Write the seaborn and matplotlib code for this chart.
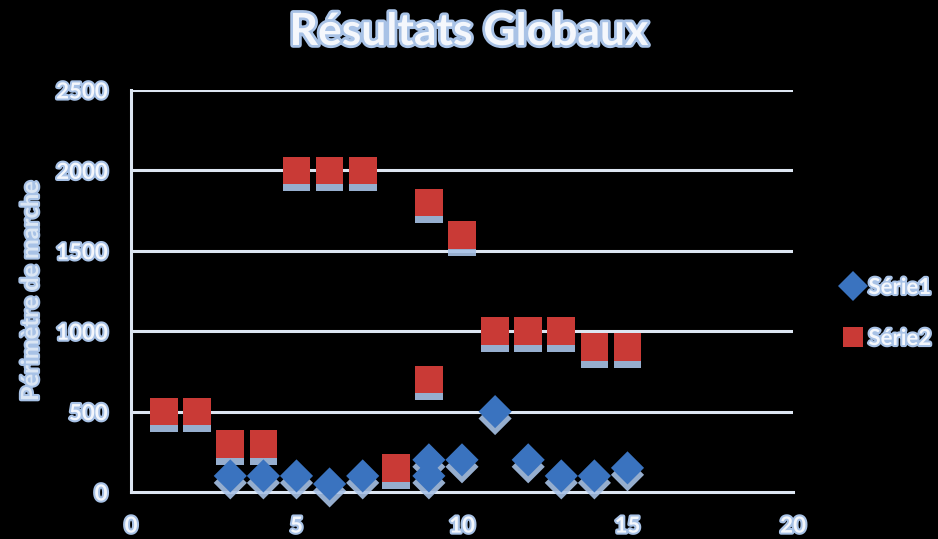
import matplotlib
matplotlib.use("Agg")
import matplotlib.pyplot as plt
import matplotlib.patheffects as pe
import seaborn as sns
import pandas as pd
import numpy as np

# values
serie1_x = [3, 4, 5, 6, 7, 9, 9, 10, 11, 12, 13, 14, 15]
serie1_y = [100, 100, 100, 50, 100, 200, 100, 200, 500, 200, 100, 100, 150]
serie2_x = [1, 2, 3, 4, 5, 6, 7, 8, 9, 9, 10, 11, 12, 13, 14, 15]
serie2_y = [500, 500, 300, 300, 2000, 2000, 2000, 150, 1800, 700, 1600, 1000, 1000, 1000, 900, 900]
series_names = ["Série1", "Série2"]
x_ticks = [0, 5, 10, 15, 20]
y_ticks = [0, 500, 1000, 1500, 2000, 2500]

df = pd.concat([
    pd.DataFrame({"x": serie1_x, "y": serie1_y, "serie": series_names[0]}),
    pd.DataFrame({"x": serie2_x, "y": serie2_y, "serie": series_names[1]}),
], ignore_index=True)

sns.set_style("dark")
plt.rcParams["font.family"] = ["Lato", "DejaVu Sans"]

TEXT = "#f4f7fc"
GLOW = "#a8c2e6"
GRID = "#dde6f2"
glow = [pe.withStroke(linewidth=3, foreground=GLOW)]

fig = plt.figure(figsize=(9.38, 5.39), dpi=100, facecolor="black")
ax = fig.add_axes([131 / 938, 47 / 539, 662 / 938, 402 / 539])
ax.set_facecolor("black")

sns.scatterplot(data=df, x="x", y="y", hue="serie", style="serie",
                palette={"Série1": "#3a73bf", "Série2": "#c93a36"},
                markers={"Série1": "D", "Série2": "s"},
                s=400, edgecolor="none", ax=ax, legend=True, zorder=3)

# diamonds a bit smaller so they are as wide as the squares
sizes = np.where(df["serie"] == series_names[0], 285, 400)
for coll in ax.collections:
    coll.set_sizes(sizes)
    coll.set_clip_on(False)
    coll.set_path_effects([pe.SimplePatchShadow(offset=(0, -5), shadow_rgbFace=GLOW, alpha=0.9),
                           pe.Normal()])

ax.set_xlim(0, 20)
ax.set_ylim(0, 2500)
ax.set_xticks(x_ticks)
ax.set_yticks(y_ticks)
ax.grid(False)
for v in y_ticks[1:]:
    ax.axhline(v, color=GRID, lw=2.2, zorder=1)

for side in ["top", "right"]:
    ax.spines[side].set_visible(False)
for side in ["left", "bottom"]:
    ax.spines[side].set_color(GRID)
    ax.spines[side].set_linewidth(2.2)
    ax.spines[side].set_zorder(2)

ax.tick_params(axis="y", length=0, labelsize=16, labelcolor=TEXT, pad=17)
ax.tick_params(axis="x", length=0, labelsize=16, labelcolor=TEXT, pad=17)
for lab in ax.get_xticklabels() + ax.get_yticklabels():
    lab.set_fontweight("bold")
    lab.set_path_effects(glow)

ax.set_xlabel("")
ax.set_ylabel("Périmètre de marche", fontsize=17, fontweight="bold", color="#dbe6f4")
ax.yaxis.label.set_path_effects(glow)
ax.yaxis.set_label_coords(-(131 - 42) / 662, 0.5)

fig.text(0.5, 1 - 32 / 539, "Résultats Globaux", ha="center", va="center",
         fontsize=32, fontweight="bold", color=TEXT, path_effects=[pe.withStroke(linewidth=4, foreground=GLOW)])

handles, labels = ax.get_legend_handles_labels()
leg = ax.legend(handles=handles, labels=labels, loc="center left",
                bbox_to_anchor=(844 / 938, 1 - 313 / 539), bbox_transform=fig.transFigure,
                frameon=False, fontsize=16, markerscale=0.75, handlelength=0.8,
                handletextpad=0.3, labelspacing=1.35, borderaxespad=0, borderpad=0)
for t in leg.get_texts():
    t.set_color(TEXT)
    t.set_fontweight("bold")
    t.set_path_effects(glow)

fig.savefig("out.png", dpi=100, facecolor="black")
